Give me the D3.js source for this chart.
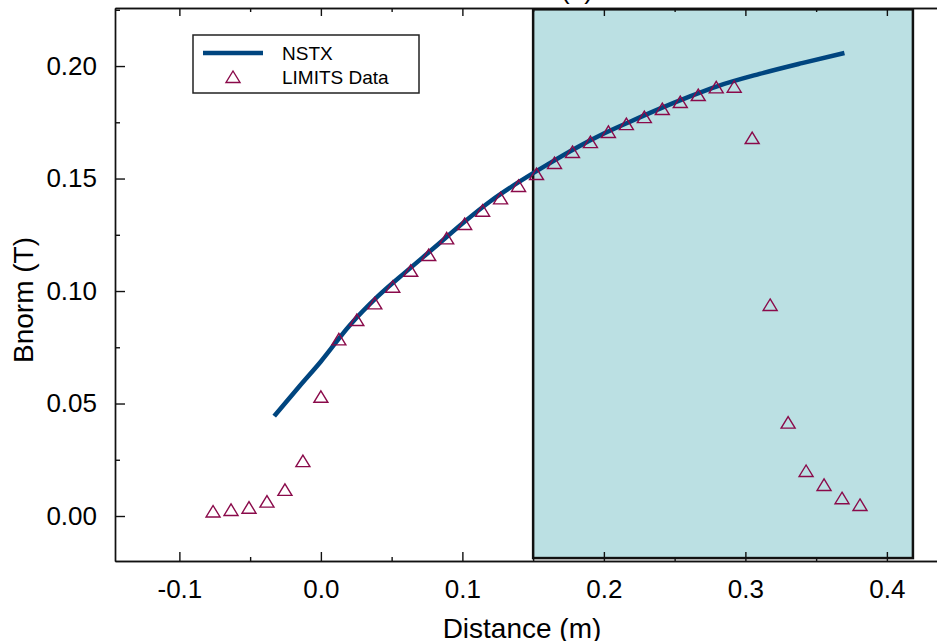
<!DOCTYPE html>
<html lang="en">

<head>
  <meta charset="UTF-8">
  <title>Bnorm vs Distance</title>
  <script src="https://cdnjs.cloudflare.com/ajax/libs/d3/7.8.5/d3.min.js"></script>
  <style>
    body { margin: 0; background: #fff; }
    svg { display: block; font-family: "Liberation Sans", Arial, sans-serif; }
  </style>
</head>

<body>
  <svg></svg>
  <script>
    // NSTX model curve
    const nstxX = [-0.033, -0.015, 0.0, 0.02, 0.04, 0.06, 0.08, 0.10, 0.12, 0.14, 0.16, 0.18, 0.20, 0.22, 0.24, 0.26, 0.28, 0.31, 0.34, 0.37];
    const nstxY = [0.0444, 0.0578, 0.0687, 0.0845, 0.0975, 0.1085, 0.1192, 0.1300, 0.1400, 0.1485, 0.1562, 0.1635, 0.170, 0.1757, 0.1812, 0.1863, 0.1910, 0.1965, 0.2013, 0.2058];

    // LIMITS measured points
    const limitsX = [-0.0762, -0.0635, -0.0508, -0.0381, -0.0254, -0.0127, 0, 0.0127, 0.0254, 0.0381, 0.0508, 0.0635, 0.0762, 0.0889, 0.1016, 0.1143, 0.127, 0.1397, 0.1524, 0.1651, 0.1778, 0.1905, 0.2032, 0.2159, 0.2286, 0.2413, 0.254, 0.2667, 0.2794, 0.2921, 0.3048, 0.3175, 0.3302, 0.3429, 0.3556, 0.3683, 0.381];
    const limitsY = [0.0020, 0.0027, 0.0037, 0.0064, 0.0116, 0.0244, 0.0530, 0.0785, 0.0871, 0.0945, 0.1019, 0.1090, 0.1160, 0.1234, 0.1298, 0.1357, 0.1412, 0.1467, 0.1520, 0.1569, 0.1618, 0.1662, 0.1707, 0.1742, 0.1773, 0.1809, 0.1840, 0.1871, 0.1905, 0.1908, 0.1680, 0.0938, 0.0415, 0.0200, 0.0138, 0.0079, 0.0049];

    const xTicks = [-0.1, 0.0, 0.1, 0.2, 0.3, 0.4];
    const xMinor = [-0.05, 0.05, 0.15, 0.25, 0.35];
    const yTicks = [0.00, 0.05, 0.10, 0.15, 0.20];
    const yMinor = [0.025, 0.075, 0.125, 0.175, 0.225];

    // shaded region
    const bandX = [0.15, 0.4184];
    const bandY = [-0.0187, 0.2252];

    const W = 937, H = 641;
    const svg = d3.select('svg').attr('width', W).attr('height', H);

    const x = d3.scaleLinear().domain([-0.1455, 0.45]).range([115, 115 + 0.5955 * 1415]);
    const y = d3.scaleLinear().domain([-0.02, 0.2258]).range([561, 8]);

    // plain hyphen for negatives, like the original
    const fmt = p => d => d3.format(p)(d).replace('\u2212', '-');

    // cut-off title at the very top
    svg.append('text')
      .attr('x', 577).attr('y', -1)
      .attr('text-anchor', 'middle')
      .style('font-size', '26px')
      .text('(b)');

    svg.append('rect')
      .attr('x', x(bandX[0]))
      .attr('y', y(bandY[1]))
      .attr('width', x(bandX[1]) - x(bandX[0]))
      .attr('height', y(bandY[0]) - y(bandY[1]))
      .style('fill', '#bbe0e3')
      .style('stroke', '#111')
      .style('stroke-width', '2.5px');

    const styleAxis = g => {
      g.selectAll('path, line').style('stroke', '#111').style('stroke-width', '1.4px');
      g.selectAll('text').style('font-size', '26px').style('fill', '#000').style('font-family', '"Liberation Sans", Arial, sans-serif');
    };

    // left axis
    svg.append('g')
      .attr('transform', `translate(${x.range()[0]},0)`)
      .call(d3.axisLeft(y).tickValues(yTicks).tickFormat(fmt('.2f')).tickSizeInner(-10).tickSizeOuter(0).tickPadding(18))
      .call(styleAxis);
    svg.append('g')
      .attr('transform', `translate(${x.range()[0]},0)`)
      .call(d3.axisLeft(y).tickValues(yMinor).tickFormat('').tickSizeInner(-5).tickSizeOuter(0))
      .call(styleAxis);

    // bottom axis
    svg.append('g')
      .attr('transform', `translate(0,${y.range()[0]})`)
      .call(d3.axisBottom(x).tickValues(xTicks).tickFormat(fmt('.1f')).tickSizeInner(-9).tickSizeOuter(0).tickPadding(19))
      .call(styleAxis);
    svg.append('g')
      .attr('transform', `translate(0,${y.range()[0]})`)
      .call(d3.axisBottom(x).tickValues(xMinor).tickFormat('').tickSizeInner(-4).tickSizeOuter(0))
      .call(styleAxis);

    // top axis
    svg.append('g')
      .attr('transform', `translate(0,${y.range()[1]})`)
      .call(d3.axisTop(x).tickValues(xTicks).tickFormat('').tickSizeInner(-8).tickSizeOuter(0))
      .call(styleAxis);
    svg.append('g')
      .attr('transform', `translate(0,${y.range()[1]})`)
      .call(d3.axisTop(x).tickValues(xMinor).tickFormat('').tickSizeInner(-4).tickSizeOuter(0))
      .call(styleAxis);

    // axis titles
    svg.append('text')
      .attr('x', 522).attr('y', 638)
      .attr('text-anchor', 'middle')
      .style('font-size', '28px')
      .text('Distance (m)');
    svg.append('text')
      .attr('transform', 'translate(33,300) rotate(-90)')
      .attr('text-anchor', 'middle')
      .style('font-size', '28px')
      .text('Bnorm (T)');

    // NSTX line
    const line = d3.line().x(d => x(d[0])).y(d => y(d[1])).curve(d3.curveMonotoneX);
    svg.append('path')
      .datum(d3.zip(nstxX, nstxY))
      .attr('d', line)
      .style('fill', 'none')
      .style('stroke', '#00457f')
      .style('stroke-width', '4.5px');

    // LIMITS triangles
    const tri = 'M0,-6L7,5.5L-7,5.5Z';
    svg.append('g')
      .selectAll('path')
      .data(d3.zip(limitsX, limitsY))
      .enter()
      .append('path')
      .attr('d', tri)
      .attr('transform', d => `translate(${x(d[0])},${y(d[1])})`)
      .style('fill', 'none')
      .style('stroke', '#8a0a4a')
      .style('stroke-width', '1.4px');

    // legend
    const lg = svg.append('g');
    lg.append('rect')
      .attr('x', 193).attr('y', 35).attr('width', 226).attr('height', 58)
      .style('fill', '#fff').style('stroke', '#222').style('stroke-width', '1.5px');
    lg.append('line')
      .attr('x1', 203).attr('x2', 263).attr('y1', 53).attr('y2', 53)
      .style('stroke', '#00457f').style('stroke-width', '4.5px');
    lg.append('path')
      .attr('d', tri)
      .attr('transform', 'translate(233,77)')
      .style('fill', 'none').style('stroke', '#8a0a4a').style('stroke-width', '1.4px');
    lg.append('text').attr('x', 282).attr('y', 60).style('font-size', '19px').text('NSTX');
    lg.append('text').attr('x', 282).attr('y', 84).style('font-size', '19px').text('LIMITS Data');
  </script>
</body>

</html>
